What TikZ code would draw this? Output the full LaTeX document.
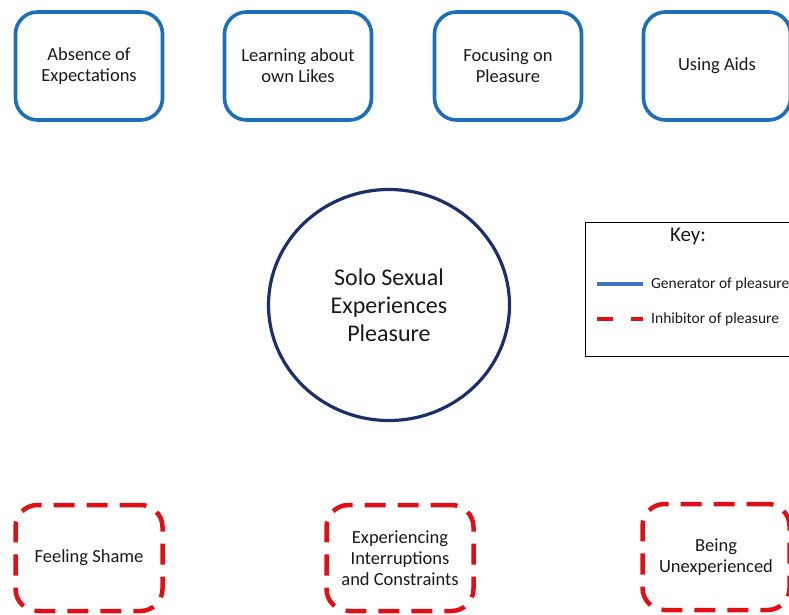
\documentclass[tikz,border=0pt]{standalone}
\usepackage{fontspec}
\setmainfont{Carlito}
\usetikzlibrary{shapes.geometric}
\definecolor{genblue}{HTML}{1E6FBA}
\definecolor{navy}{HTML}{1B2F6B}
\definecolor{inhred}{HTML}{E00F16}
\definecolor{keyblue}{HTML}{4472C4}
\definecolor{txt}{HTML}{1A1A1A}
\tikzset{
  genbox/.style={draw=genblue, line width=3.6pt, rounded corners=22pt, minimum width=147pt, minimum height=108pt, align=center, text=txt, font=\fontsize{18.5}{21}\selectfont},
  inhbox/.style={draw=inhred, line width=4.5pt, rounded corners=22pt, dash pattern=on 21pt off 12pt, minimum width=147pt, minimum height=106pt, align=center, text=txt, font=\fontsize{18.5}{21}\selectfont},
  keytext/.style={anchor=west, text=txt, font=\fontsize{15.5}{18}\selectfont, inner sep=0pt}
}
\begin{document}
\begin{tikzpicture}[x=1pt,y=-1pt]
\useasboundingbox (0,0) rectangle (789,615);
% generators
\node[genbox] (g1) at (89,66) {Absence of\\Expectations};
\node[genbox] (g2) at (298,66) {Learning about\\own Likes};
\node[genbox] (g3) at (508,66) {Focusing on\\Pleasure};
\node[genbox] (g4) at (717,66) {Using Aids};
% centre
\node[draw=navy, line width=3.2pt, ellipse, minimum width=241pt, minimum height=231pt, align=center, text=txt, font=\fontsize{24}{28}\selectfont] (c) at (389,305) {Solo Sexual\\Experiences\\Pleasure};
% key
\node[draw=black, line width=1.2pt, minimum width=215pt, minimum height=134pt, anchor=north west, inner sep=0pt] (key) at (585,222) {};
\node[text=txt, font=\fontsize{21}{24}\selectfont, inner sep=0pt] (keyt) at (688,236) {Key:};
\coordinate (b1) at (597,284);
\coordinate (b2) at (643,284);
\draw[keyblue, line width=3.5pt] (b1) -- (b2);
\node[keytext] (kg) at (651,284) {Generator of pleasure};
\coordinate (r1) at (597,319);
\coordinate (r2) at (643,319);
\draw[inhred, line width=4.5pt, dash pattern=on 16pt off 18pt] (r1) -- (r2);
\node[keytext] (ki) at (651,319) {Inhibitor of pleasure};
% inhibitors
\node[inhbox] (i1) at (89,558) {Feeling Shame};
\node[inhbox] (i2) at (400,558) {Experiencing\\Interruptions\\and Constraints};
\node[inhbox] (i3) at (716,557) {Being\\Unexperienced};
\end{tikzpicture}
\end{document}
